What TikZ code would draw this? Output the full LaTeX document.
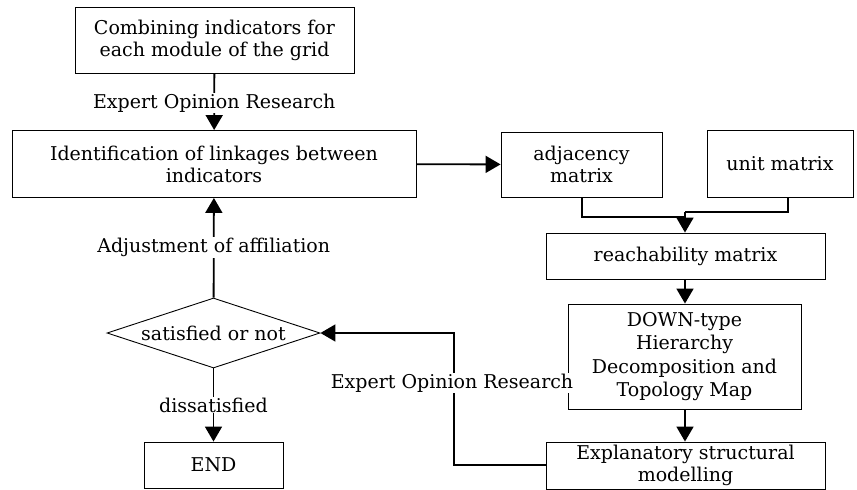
\documentclass[tikz,border=0pt]{standalone}
\usepackage{fontspec}
\setmainfont{DejaVu Serif}
\usetikzlibrary{arrows.meta,shapes.geometric}
\begin{document}
\begin{tikzpicture}[x=1pt,y=-1pt,
  box/.style={draw, line width=0.9pt, minimum width=#1, inner sep=0pt, align=center, font=\fontsize{19}{22}\selectfont},
  conn/.style={line width=1.8pt, -{Triangle[width=17pt,length=15pt]}},
  lbl/.style={fill=white, inner sep=1pt, font=\fontsize{19}{22}\selectfont}]
\useasboundingbox (0,0) rectangle (857,490);
\node[box=279pt, minimum height=66pt] (top) at (214.5,40.5) {Combining indicators for\\each module of the grid};
\node[box=404pt, minimum height=67pt] (ident) at (214,164) {Identification of linkages between\\indicators};
\node[box=161pt, minimum height=65pt] (adj) at (581.5,164.5) {adjacency\\matrix};
\node[box=146pt, minimum height=67pt] (unit) at (780,163.5) {unit matrix};
\node[box=279pt, minimum height=46pt] (reach) at (685.5,256) {reachability matrix};
\node[box=233pt, minimum height=105pt, font=\fontsize{19}{23.5}\selectfont] (down) at (684.5,356.5) {DOWN-type\\Hierarchy\\Decomposition and\\Topology Map};
\node[box=279pt, minimum height=47pt] (expl) at (685.5,465.5) {Explanatory structural\\modelling};
\node[draw, line width=0.9pt, diamond, aspect=3.05, minimum width=213pt, minimum height=70pt, inner sep=0pt, font=\fontsize{19}{22}\selectfont] (dia) at (213.5,333) {satisfied or not};
\node[box=139pt, minimum height=46pt] (end) at (213.5,465) {END};
\draw[conn] (top) -- node[lbl, pos=0.52] {Expert Opinion Research} (ident);
\draw[conn] (dia) -- node[lbl, pos=0.5] {Adjustment of affiliation} (ident);
\draw[conn] (dia) -- node[lbl, pos=0.5] {dissatisfied} (end);
\draw[conn] (ident) -- (adj);
\coordinate (j1) at (582,217);
\coordinate (j2) at (788,212);
\coordinate (m) at (685,217);
\draw[line width=1.8pt] (adj.south -| j1) -- (j1) -- (m);
\draw[line width=1.8pt] (unit.south -| j2) -- (j2) -- (685,212);
\draw[conn] (685,212) -- (reach.north -| m);
\draw[conn] (reach.south -| m) -- (down.north -| m);
\draw[conn] (down.south -| m) -- (expl.north -| m);
\coordinate (fb1) at (454,465);
\coordinate (fb2) at (454,333);
\draw[conn] (expl.west |- fb1) -- (fb1) -- (fb2) -- (dia.east);
\node[lbl] (lab2) at (452,383) {Expert Opinion Research};
\end{tikzpicture}
\end{document}
